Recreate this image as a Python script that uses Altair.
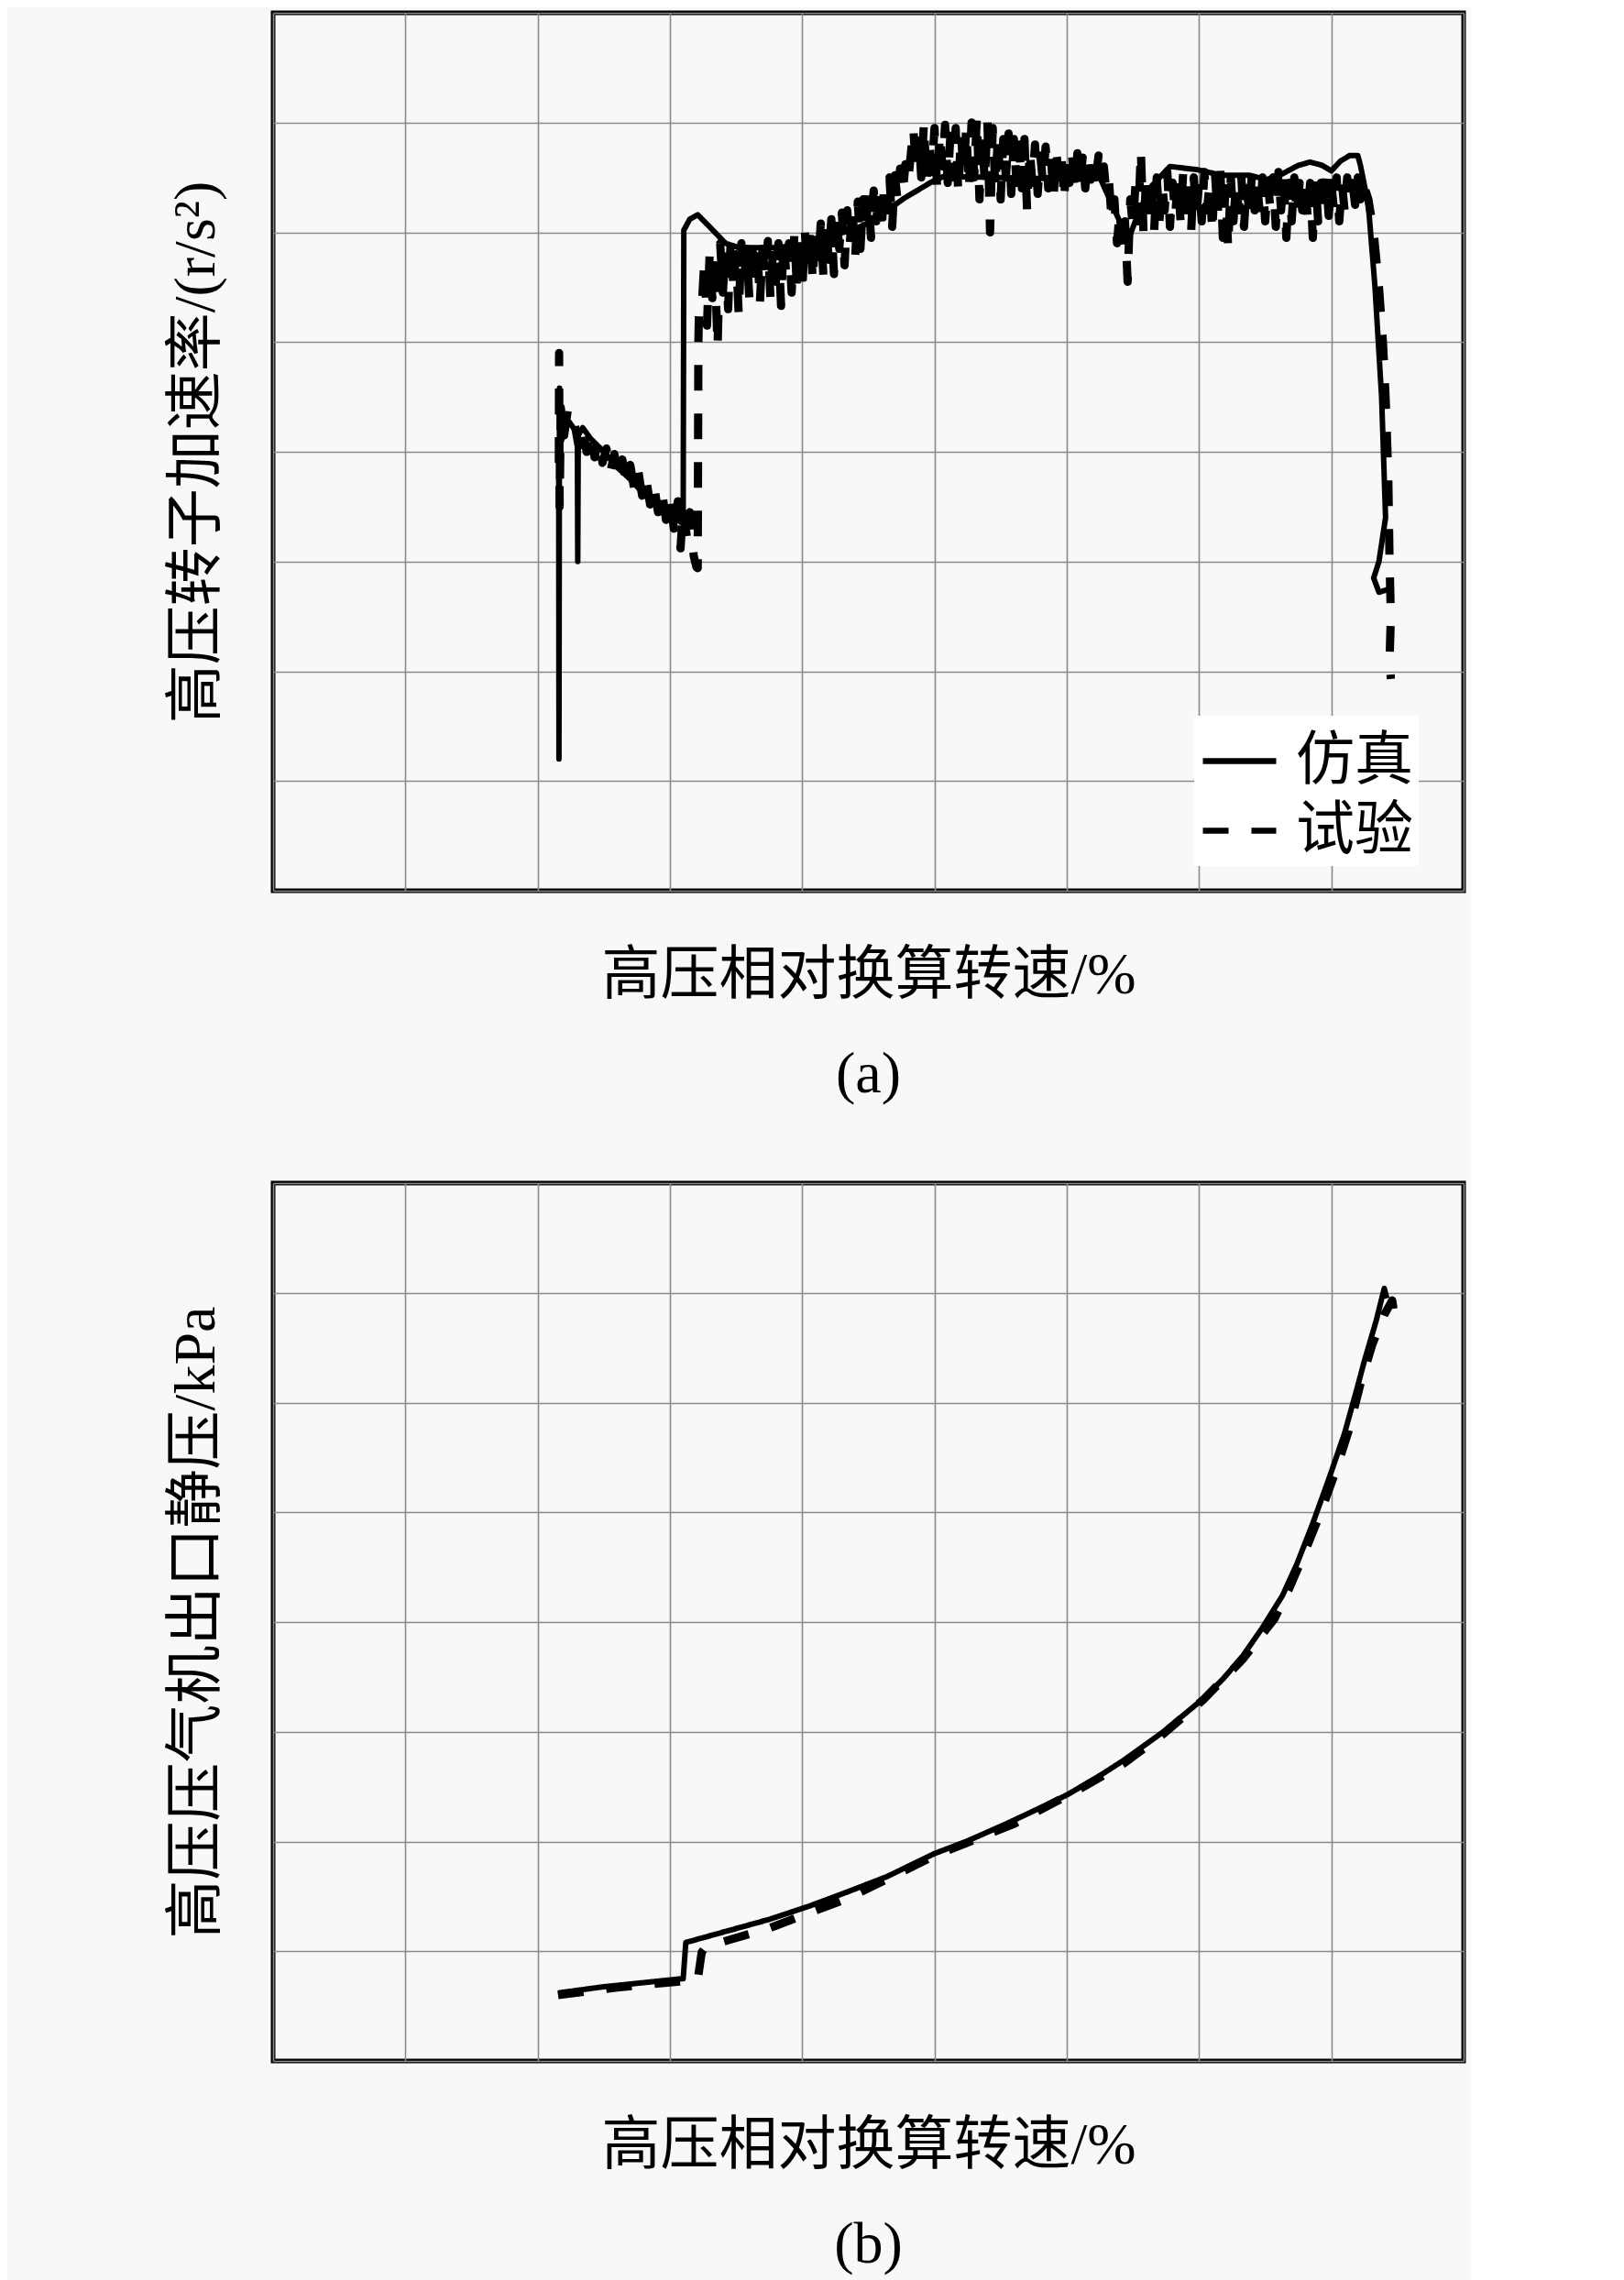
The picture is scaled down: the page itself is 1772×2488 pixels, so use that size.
import altair as alt
import pandas as pd

# ---------------- data (grid units: x 0..9 columns, y 0..8 rows) ----------------
a_sim_x = [2.159, 2.161, 2.165, 2.18, 2.20, 2.24, 2.28, 2.30, 2.303, 2.307, 2.34, 2.40, 2.50, 2.60, 2.70,
           2.80, 2.90, 3.00, 3.08, 3.10, 3.105, 3.15, 3.21, 3.30, 3.42, 3.52, 3.94, 4.08, 4.40, 4.54,
           4.77, 4.98, 5.07, 5.81, 6.25, 6.40, 6.47, 6.55, 6.64, 6.78, 6.99, 7.17, 7.38, 7.51, 7.61,
           7.75, 7.84, 7.93, 8.00, 8.07, 8.14, 8.20, 8.22, 8.28, 8.33, 8.38, 8.41, 8.36, 8.32, 8.36, 8.44]
a_sim_y = [4.0, 1.2, 4.58, 4.1, 4.2, 4.27, 4.2, 4.15, 3.0, 4.15, 4.22, 4.12, 4.0, 3.86, 3.75,
           3.62, 3.5, 3.42, 3.36, 3.35, 6.02, 6.12, 6.16, 6.05, 5.90, 5.86, 5.86, 5.92, 6.03, 6.11,
           6.31, 6.46, 6.51, 6.49, 6.50, 6.10, 5.95, 6.20, 6.42, 6.60, 6.57, 6.52, 6.52, 6.48, 6.52,
           6.61, 6.64, 6.61, 6.56, 6.65, 6.70, 6.70, 6.61, 6.25, 5.5, 4.5, 3.4, 3.0, 2.85, 2.72, 2.75]

a_exp_x = [2.160, 2.162, 2.166, 2.175, 2.20, 2.23, 2.26,
           2.28, 2.31, 2.34, 2.37, 2.40, 2.43, 2.46, 2.49, 2.52, 2.55, 2.58, 2.61, 2.64, 2.67, 2.70,
           2.73, 2.76, 2.79, 2.82, 2.85, 2.88, 2.91, 2.94, 2.97, 3.00, 3.03, 3.06, 3.08, 3.10, 3.13,
           3.15, 3.18, 3.20, 3.21, 3.215, 3.22,
           3.24, 3.26, 3.28, 3.30, 3.32, 3.34, 3.36, 3.38, 3.40, 3.42, 3.44, 3.46, 3.48, 3.50, 3.52,
           3.54, 3.56, 3.58, 3.60, 3.62,
           3.64, 3.66, 3.68, 3.70, 3.72, 3.74, 3.76, 3.78, 3.80, 3.82, 3.84, 3.86, 3.88, 3.90, 3.92,
           3.94, 3.96, 3.98, 4.00, 4.02,
           4.04, 4.06, 4.08, 4.10, 4.12, 4.14, 4.16, 4.18, 4.20, 4.22, 4.24, 4.26, 4.28, 4.30, 4.32,
           4.34, 4.36, 4.38, 4.40, 4.42,
           4.44, 4.46, 4.48, 4.50, 4.52, 4.54, 4.56, 4.58, 4.60, 4.62, 4.64, 4.66, 4.68, 4.70, 4.72,
           4.74, 4.76, 4.78, 4.80, 4.82,
           4.84, 4.86, 4.88, 4.90, 4.92, 4.94, 4.96, 4.98, 5.00, 5.02, 5.04, 5.06, 5.08, 5.10, 5.12,
           5.14, 5.16, 5.18, 5.20, 5.22,
           5.24, 5.26, 5.28, 5.30, 5.32, 5.34, 5.36, 5.38, 5.40, 5.42, 5.44, 5.46, 5.48, 5.50, 5.52,
           5.54, 5.56, 5.58, 5.60, 5.62,
           5.64, 5.66, 5.68, 5.70, 5.72, 5.74, 5.76, 5.78, 5.80, 5.82, 5.84, 5.86, 5.88, 5.90, 5.92,
           5.94, 5.96, 5.98, 6.00, 6.02,
           6.04, 6.06, 6.08, 6.10, 6.12, 6.14, 6.16, 6.18, 6.20, 6.22, 6.24, 6.26,
           6.28, 6.30, 6.32, 6.34, 6.36, 6.38, 6.40, 6.42, 6.44, 6.46, 6.48, 6.50, 6.52, 6.54, 6.56,
           6.58, 6.60, 6.62,
           6.64, 6.66, 6.68, 6.70, 6.72, 6.74, 6.76, 6.78, 6.80, 6.82, 6.84, 6.86, 6.88, 6.90, 6.92,
           6.94, 6.96, 6.98, 7.00, 7.02,
           7.04, 7.06, 7.08, 7.10, 7.12, 7.14, 7.16, 7.18, 7.20, 7.22, 7.24, 7.26, 7.28, 7.30, 7.32,
           7.34, 7.36, 7.38, 7.40, 7.42,
           7.44, 7.46, 7.48, 7.50, 7.52, 7.54, 7.56, 7.58, 7.60, 7.62, 7.64, 7.66, 7.68, 7.70, 7.72,
           7.74, 7.76, 7.78, 7.80, 7.82,
           7.84, 7.86, 7.88, 7.90, 7.92, 7.94, 7.96, 7.98, 8.00, 8.02, 8.04, 8.06, 8.08, 8.10, 8.12,
           8.14, 8.16, 8.18, 8.20, 8.22, 8.24,
           8.28, 8.32, 8.36, 8.39, 8.41, 8.43, 8.44, 8.45, 8.44, 8.45]
a_exp_y = [3.9, 4.9, 3.5, 4.4, 4.15, 4.4, 4.3,
           4.25, 4.05, 4.22, 4.0, 4.18, 3.95, 4.12, 3.9, 4.03, 3.82, 3.98, 3.76, 3.93, 3.72, 3.88,
           3.66, 3.83, 3.6, 3.76, 3.52, 3.70, 3.45, 3.64, 3.38, 3.58, 3.3, 3.55, 3.12, 3.5, 3.2,
           3.45, 3.05, 2.95, 2.94, 5.0, 5.3,
           5.3, 5.75, 5.15, 5.8, 5.4, 5.7, 4.95, 5.9, 5.45, 5.85, 5.3, 5.95, 5.5, 5.8, 5.25,
           5.9, 5.55, 5.85, 5.4, 5.95,
           5.5, 5.9, 5.35, 5.85, 5.6, 5.92, 5.4, 5.88, 5.55, 5.9, 5.33, 5.95, 5.6, 5.9, 5.45,
           5.97, 5.5, 5.95, 5.45, 6.0,
           5.65, 6.02, 5.55, 6.05, 5.7, 6.08, 5.6, 6.1, 5.75, 6.12, 5.62, 6.15, 5.85, 6.18, 5.7,
           6.2, 5.9, 6.25, 5.75, 6.28,
           5.85, 6.3, 6.0, 6.35, 5.95, 6.38, 6.1, 6.42, 6.0, 6.45, 6.2, 6.5, 6.05, 6.52, 6.3,
           6.58, 6.35, 6.62, 6.45, 6.7,
           6.95, 6.55, 6.9, 6.5, 7.0, 6.45, 6.85, 6.55, 6.95, 6.4, 6.9, 6.6, 6.98, 6.45, 6.88,
           6.5, 6.95, 6.35, 6.9, 6.55,
           6.95, 6.4, 7.0, 6.5, 7.05, 6.3, 6.9, 6.45, 7.02, 6.0, 6.95, 6.4, 6.9, 6.3, 6.85,
           6.5, 6.9, 6.35, 6.85, 6.45,
           6.8, 6.4, 6.85, 6.2, 6.75, 6.45, 6.8, 6.35, 6.7, 6.45, 6.78, 6.4, 6.7, 6.3, 6.75,
           6.5, 6.7, 6.29, 6.72, 6.45,
           6.7, 6.4, 6.72, 6.45, 6.68, 6.4, 6.7, 6.48, 6.65, 6.5, 6.7, 6.5,
           6.6, 6.35, 6.45, 6.1, 6.3, 5.9, 6.2, 5.85, 6.1, 5.55, 6.3, 6.05, 6.45, 6.1, 6.75,
           6.0, 6.5, 6.2,
           6.45, 6.0, 6.5, 6.1, 6.45, 6.2, 6.55, 6.05, 6.45, 6.15, 6.5, 6.1, 6.55, 6.2, 6.45,
           6.0, 6.5, 6.15, 6.45, 6.1,
           6.55, 6.2, 6.45, 6.0, 6.55, 6.15, 6.6, 5.95, 6.4, 5.85, 6.5, 6.1, 6.45, 6.2, 6.5,
           6.05, 6.45, 6.15, 6.55, 6.2,
           6.45, 6.15, 6.5, 6.1, 6.45, 6.2, 6.5, 6.05, 6.55, 6.2, 6.5, 5.95, 6.45, 6.1, 6.5,
           6.15, 6.45, 6.2, 6.5, 6.15,
           6.45, 5.95, 6.5, 6.1, 6.45, 6.2, 6.5, 6.15, 6.45, 6.2, 6.5, 6.1, 6.45, 6.2, 6.5,
           6.3, 6.45, 6.25, 6.5, 6.3, 6.45,
           6.3, 6.0, 5.5, 5.0, 4.5, 3.8, 3.0, 2.5, 2.1, 1.93]

b_sim_x = [2.154, 2.49, 3.09, 3.10, 3.12, 3.45, 3.75, 4.05, 4.34, 4.64, 5.00, 5.24, 5.54, 5.84,
           6.01, 6.25, 6.43, 6.73, 7.03, 7.18, 7.33, 7.48, 7.63, 7.74, 7.86, 7.98, 8.10, 8.19, 8.25,
           8.34, 8.40, 8.42]
b_sim_y = [0.62, 0.675, 0.75, 0.75, 1.08, 1.19, 1.29, 1.41, 1.54, 1.68, 1.89, 2.00, 2.16, 2.33,
           2.43, 2.60, 2.74, 3.00, 3.30, 3.48, 3.69, 3.95, 4.24, 4.53, 4.90, 5.30, 5.72, 6.11, 6.38,
           6.75, 7.04, 6.95]

b_exp_x = [2.154, 2.60, 3.21, 3.24, 3.27, 3.75, 4.34, 5.00, 5.60, 6.13, 6.43, 6.73, 7.03, 7.33,
           7.57, 7.68, 7.80, 7.92, 8.04, 8.13, 8.22, 8.31, 8.40, 8.46, 8.47]
b_exp_y = [0.60, 0.67, 0.74, 0.99, 1.04, 1.21, 1.48, 1.87, 2.16, 2.50, 2.71, 2.98, 3.29, 3.66,
           4.03, 4.30, 4.64, 5.00, 5.40, 5.74, 6.17, 6.53, 6.80, 6.93, 6.85]

SERIES = ["仿真", "试验"]
FONT = "Liberation Serif, Noto Sans CJK SC"


def frame(xs, ys, name):
    return pd.DataFrame({"x": xs, "y": ys, "s": name, "i": list(range(len(xs)))})


def panel(sim_x, sim_y, exp_x, exp_y, ytitle, label):
    df = pd.concat([frame(sim_x, sim_y, SERIES[0]), frame(exp_x, exp_y, SERIES[1])])
    x = alt.X("x:Q", scale=alt.Scale(domain=[0, 9], nice=False, zero=False),
              axis=alt.Axis(values=list(range(10)), labels=False, ticks=False, domain=False,
                            grid=True, gridColor="#8a8a8a", gridWidth=1.6,
                            title="高压相对换算转速/%", titleFontSize=64, titleFont=FONT,
                            titleFontWeight="normal", titleColor="black", titlePadding=60))
    y = alt.Y("y:Q", scale=alt.Scale(domain=[0, 8], nice=False, zero=False),
              axis=alt.Axis(values=list(range(9)), labels=False, ticks=False, domain=False,
                            grid=True, gridColor="#8a8a8a", gridWidth=1.6,
                            title=ytitle, titleFontSize=64, titleFont=FONT,
                            titleFontWeight="normal", titleColor="black", titlePadding=52))
    dash = alt.StrokeDash(
        "s:N",
        scale=alt.Scale(domain=SERIES, range=[[1, 0], [28, 25]]),
        legend=alt.Legend(orient="none", legendX=1005, legendY=767, title=None,
                          symbolType="stroke", symbolSize=6400, symbolStrokeWidth=6.5,
                          symbolStrokeColor="black", labelFontSize=64, labelFont=FONT,
                          labelColor="black", labelOffset=18, fillColor="white",
                          padding=6, rowPadding=0, labelLimit=400))
    base = alt.Chart(df).encode(x=x, y=y, order=alt.Order("i:Q"), strokeDash=dash,
                                detail="s:N")
    sim = base.transform_filter(alt.datum.s == SERIES[0]).mark_line(
        color="black", strokeWidth=6, strokeJoin="round")
    exp = base.transform_filter(alt.datum.s == SERIES[1]).mark_line(
        color="black", strokeWidth=9, strokeJoin="round")
    return alt.layer(sim, exp).properties(
        width=1299, height=958,
        title=alt.Title(label, orient="bottom", fontSize=64, font=FONT,
                        fontWeight="normal", color="black", offset=45))


pa = panel(a_sim_x, a_sim_y, a_exp_x, a_exp_y, "高压转子加速率/(r/s²)", "(a)")
pb = panel(b_sim_x, b_sim_y, b_exp_x, b_exp_y, "高压压气机出口静压/kPa", "(b)")

chart = alt.vconcat(pa, pb, spacing=80).properties(
    padding={"left": 171, "top": 3, "right": 5, "bottom": 5},
    background="#f8f8f8",
).configure_view(stroke="black", strokeWidth=5, fill="#f8f8f8")

chart.save("out.html", embed_options={"renderer": "svg", "actions": False})
